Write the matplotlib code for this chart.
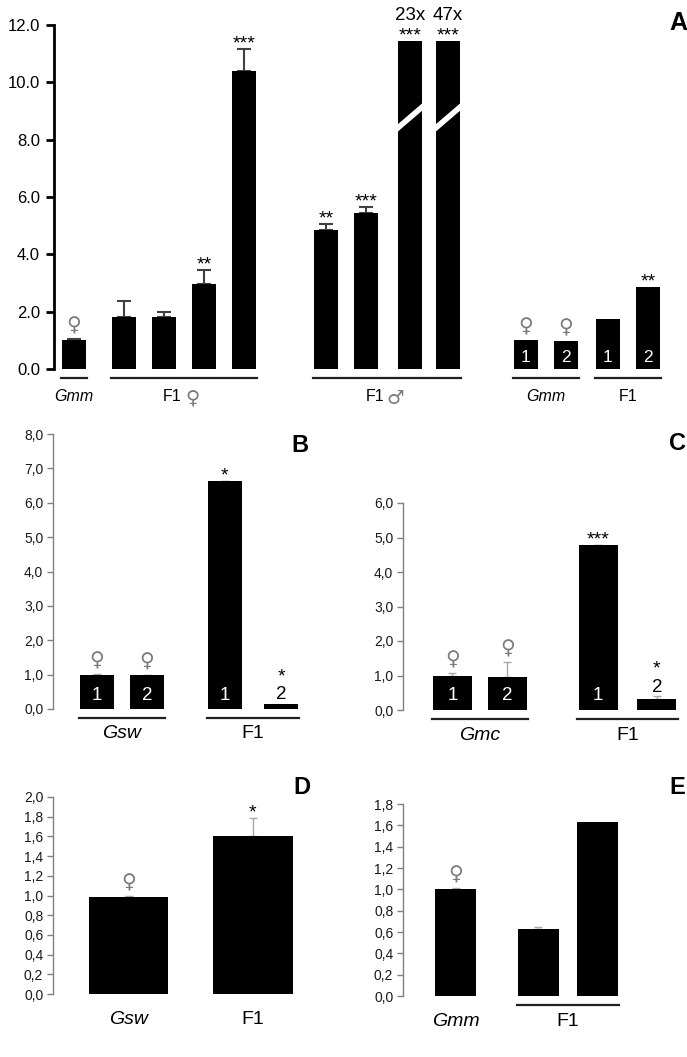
import numpy as np
import matplotlib.pyplot as plt

plt.rcParams['font.family'] = ['Liberation Sans', 'DejaVu Sans']

FEM = '\u2640'
MALE = '\u2642'

# ---- panel A: relative expression ----
a_values = [1.0, 1.8, 1.8, 2.95, 10.4, 4.85, 5.45, 23.0, 47.0, 1.0, 0.97, 1.75, 2.85]
a_errors = [0.03, 0.58, 0.2, 0.5, 0.75, 0.2, 0.2, 0, 0, 0, 0, 0, 0]
a_stars = ['', '', '', '**', '***', '**', '***', '***', '***', '', '', '', '**']
a_numbers = ['', '', '', '', '', '', '', '', '', '1', '2', '1', '2']
a_female = [0, 9, 10]
a_groups = [('Gmm', 0, 0), ('F1 ' + FEM, 1, 4), ('F1 ' + MALE, 5, 8), ('Gmm', 9, 10), ('F1', 11, 12)]
a_ticks = [0, 2, 4, 6, 8, 10, 12]

# ---- panel B ----
b_values = [1.0, 0.98, 6.63, 0.15]
b_errors = [0.02, 0.02, 0.01, 0.0]
b_stars = ['', '', '*', '*']
b_numbers = ['1', '2', '1', '2']
b_female = [0, 1]
b_groups = [('Gsw', 0, 1), ('F1', 2, 3)]
b_ticks = [0, 1, 2, 3, 4, 5, 6, 7, 8]

# ---- panel C ----
c_values = [1.0, 0.97, 4.78, 0.33]
c_errors = [0.07, 0.43, 0.01, 0.07]
c_stars = ['', '', '***', '*']
c_numbers = ['1', '2', '1', '2']
c_female = [0, 1]
c_groups = [('Gmc', 0, 1), ('F1', 2, 3)]
c_ticks = [0, 1, 2, 3, 4, 5, 6]

# ---- panel D ----
d_values = [0.98, 1.6]
d_errors = [0.02, 0.19]
d_stars = ['', '*']
d_female = [0]
d_groups = [('Gsw', 0, 0), ('F1', 1, 1)]
d_ticks = [0, 0.2, 0.4, 0.6, 0.8, 1.0, 1.2, 1.4, 1.6, 1.8, 2.0]

# ---- panel E ----
e_values = [1.0, 0.63, 1.63]
e_errors = [0.01, 0.02, 0.0]
e_stars = ['', '', '']
e_female = [0]
e_groups = [('Gmm', 0, 0), ('F1', 1, 2)]
e_ticks = [0, 0.2, 0.4, 0.6, 0.8, 1.0, 1.2, 1.4, 1.6, 1.8]

W, H = 687, 1057
fig = plt.figure(figsize=(W / 100, H / 100), dpi=100)
SYM_FONT = ['DejaVu Sans']


def px_axes(l, t, r, b):
    return fig.add_axes([l / W, 1 - b / H, (r - l) / W, (b - t) / H])


def bar_panel(ax, pos, values, errors, stars, numbers, females, groups, underlined,
              width, ymax, ticks, xlim, thick=False, cap=None):
    ax.set_xlim(*xlim)
    ax.set_ylim(0, ymax)
    ppu = ax.get_position().height * H / ymax  # pixels per unit
    xpx = ax.get_position().width * W / (xlim[1] - xlim[0])
    values = np.array(values, dtype=float)
    errors = np.array(errors, dtype=float)
    shown = np.minimum(values, cap) if cap else values
    ax.bar(pos, shown, width, color='black', zorder=2)

    has_err = errors > 0
    ax.errorbar(np.array(pos)[has_err], shown[has_err],
                yerr=[np.zeros(has_err.sum()), errors[has_err]], fmt='none',
                ecolor='#404040' if thick else '#a8a8a8',
                elinewidth=1.5 if thick else 1, capsize=5 if thick else 3,
                capthick=1.5 if thick else 1, zorder=1)

    star_fs = 14
    num_fs = 12.5 if thick else 13.5
    grp_fs = 11.5 if thick else 14
    fem_fs = 14.5

    for i, x in enumerate(pos):
        top = shown[i] + errors[i]
        off = 0
        num = numbers[i] if numbers else ''
        if num:
            if shown[i] * ppu > 22:
                ax.annotate(num, (x, 0), xytext=(0, 12 if thick else 14),
                            textcoords='offset pixels', ha='center', va='center',
                            color='white', fontsize=num_fs)
            else:
                ax.annotate(num, (x, top), xytext=(0, 9), textcoords='offset pixels',
                            ha='center', va='center', color='black', fontsize=num_fs)
                off = 22
        if i in females:
            ax.annotate(FEM, (x, top), xytext=(0, 13), textcoords='offset pixels',
                        ha='center', va='center', color='#7a7a7a', fontsize=fem_fs,
                        family=SYM_FONT)
        if stars[i]:
            ax.annotate(stars[i], (x, top), xytext=(0, off + 5), textcoords='offset pixels',
                        ha='center', va='center', color='black', fontsize=star_fs)
        if cap and values[i] > cap:
            ax.annotate('%dx' % values[i], (x, top), xytext=(0, off + 25),
                        textcoords='offset pixels', ha='center', va='center',
                        color='black', fontsize=13.5)
            # axis break drawn as a white slash
            ax.plot([x - width / 2 - 0.05, x + width / 2 + 0.05], [8.35, 9.2],
                    color='white', lw=4, solid_capstyle='butt', zorder=3)

    for (label, i0, i1), ul in zip(groups, underlined):
        x0 = pos[i0] - width / 2
        x1 = pos[i1] + width / 2
        if ul:
            ax.plot([x0 - 0.02, x1 + 0.02], [-8.5 / ppu] * 2, color='#202020', lw=1.6,
                    clip_on=False)
        ly = -(27 if thick else 25) / ppu
        xc = (x0 + x1) / 2
        if label[-1] in (FEM, MALE):
            # text part and sex symbol drawn separately
            ax.text(xc - 12 / xpx, ly, label[:-2], ha='center', va='center',
                    fontsize=grp_fs, clip_on=False)
            ax.text(xc + 8 / xpx, ly - 2 / ppu, label[-1], ha='center', va='center',
                    fontsize=14, color='#7a7a7a', family=SYM_FONT, clip_on=False)
        else:
            ax.text(xc, ly, label, ha='center', va='center',
                    fontsize=grp_fs, style='italic' if label.startswith('G') else 'normal',
                    clip_on=False)

    for s in ['top', 'right', 'bottom']:
        ax.spines[s].set_visible(False)
    ax.tick_params(axis='x', bottom=False, labelbottom=False)
    ax.set_yticks(ticks)
    if thick:
        ax.spines['left'].set_linewidth(2)
        ax.spines['left'].set_color('black')
        ax.set_yticklabels(['%.1f' % t for t in ticks])
        ax.tick_params(axis='y', direction='out', length=6, width=2, labelsize=12, pad=4)
    else:
        ax.spines['left'].set_linewidth(1)
        ax.spines['left'].set_color('#808080')
        ax.set_yticklabels([('%.1f' % t).replace('.', ',') for t in ticks])
        ax.tick_params(axis='y', direction='out', length=4, width=1, color='#808080',
                       labelsize=10, pad=3, labelcolor='#1a1a1a')


# panel A
axA = px_axes(54, 25, 670, 369)
posA = [0, 1.25, 2.25, 3.25, 4.25, 6.3, 7.3, 8.4, 9.35, 11.3, 12.3, 13.35, 14.35]
bar_panel(axA, posA, a_values, a_errors, a_stars, a_numbers, a_female, a_groups,
          [True] * 5, 0.61, 12, a_ticks, (-0.5, 14.9), thick=True, cap=11.45)

# panel B
axB = px_axes(53, 434, 310, 709)
bar_panel(axB, [0, 1, 2.55, 3.68], b_values, b_errors, b_stars, b_numbers, b_female,
          b_groups, [True, True], 0.68, 8, b_ticks, (-0.88, 4.26))

# panel C
axC = px_axes(403, 503, 680, 710)
bar_panel(axC, [0, 1, 2.65, 3.72], c_values, c_errors, c_stars, c_numbers, c_female,
          c_groups, [True, True], 0.71, 6, c_ticks, (-0.9, 4.14))

# panel D
axD = px_axes(53, 797, 310, 994)
bar_panel(axD, [0, 1], d_values, d_errors, d_stars, None, d_female,
          d_groups, [False, False], 0.64, 2.0, d_ticks, (-0.61, 1.46))

# panel E
axE = px_axes(403, 804, 680, 996)
bar_panel(axE, [0, 1.38, 2.37], e_values, e_errors, e_stars, None, e_female,
          e_groups, [False, True], 0.68, 1.8, e_ticks, (-0.875, 3.74))

for lab, x, y, fs in [('A', 678, 23, 18), ('B', 300, 445, 17), ('C', 678, 443, 17),
                      ('D', 302, 787, 17), ('E', 677, 787, 17)]:
    fig.text(x / W, 1 - y / H, lab, fontsize=fs, weight='bold', ha='center', va='center')

fig.savefig('out.png', dpi=100)
